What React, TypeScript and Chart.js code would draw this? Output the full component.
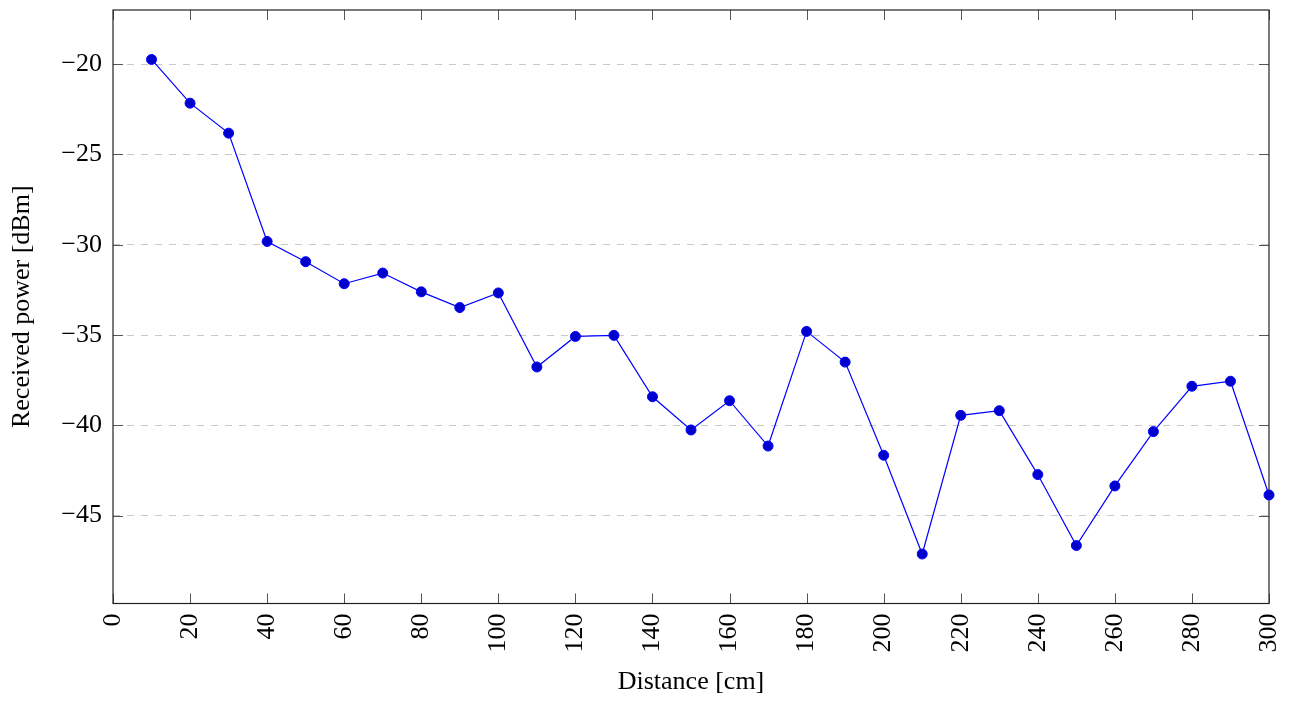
import React, { useEffect, useRef } from "react";
import { Chart, registerables } from "chart.js";

Chart.register(...registerables);

const distances = [10, 20, 30, 40, 50, 60, 70, 80, 90, 100, 110, 120, 130, 140, 150, 160, 170, 180, 190, 200, 210, 220, 230, 240, 250, 260, 270, 280, 290, 300];
const receivedPower = [-19.74, -22.16, -23.82, -29.82, -30.94, -32.16, -31.57, -32.61, -33.48, -32.67, -36.77, -35.08, -35.02, -38.42, -40.26, -38.64, -41.15, -34.8, -36.5, -41.66, -47.13, -39.45, -39.19, -42.73, -46.66, -43.36, -40.35, -37.84, -37.56, -43.86];
const xTicks = [0, 20, 40, 60, 80, 100, 120, 140, 160, 180, 200, 220, 240, 260, 280, 300];
const yTicks = [-45, -40, -35, -30, -25, -20];
const xMin = 0;
const xMax = 300;
const yMin = -49.87;
const yMax = -17.0;
const xTitle = "Distance [cm]";
const yTitle = "Received power [dBm]";

const FONT = "'Liberation Serif', 'Times New Roman', serif";

const framePlugin = {
  id: "frame",
  beforeDatasetsDraw(chart: any) {
    const { ctx, chartArea: a, scales } = chart;
    const x = scales.x;
    const y = scales.y;
    const tl = 10;
    ctx.save();
    ctx.strokeStyle = "#555";
    ctx.lineWidth = 1;
    ctx.beginPath();
    for (const t of xTicks) {
      const px = Math.round(x.getPixelForValue(t)) + 0.5;
      ctx.moveTo(px, a.bottom);
      ctx.lineTo(px, a.bottom - tl);
      ctx.moveTo(px, a.top);
      ctx.lineTo(px, a.top + tl);
    }
    for (const t of yTicks) {
      const py = Math.round(y.getPixelForValue(t)) + 0.5;
      ctx.moveTo(a.left, py);
      ctx.lineTo(a.left + tl, py);
      ctx.moveTo(a.right, py);
      ctx.lineTo(a.right - tl, py);
    }
    ctx.stroke();
    ctx.strokeStyle = "#222";
    ctx.lineWidth = 1.2;
    ctx.strokeRect(a.left, a.top, a.right - a.left, a.bottom - a.top);
    ctx.restore();
  },
};

export default function App() {
  const ref = useRef<HTMLCanvasElement | null>(null);
  useEffect(() => {
    if (!ref.current) return;
    const chart = new Chart(ref.current, {
      type: "line",
      data: {
        datasets: [
          {
            data: distances.map((d, i) => ({ x: d, y: receivedPower[i] })),
            borderColor: "#0000ff",
            borderWidth: 1.2,
            pointRadius: 5,
            pointBorderWidth: 1,
            pointBackgroundColor: "#0000cc",
            pointBorderColor: "#0000ff",
            tension: 0,
            clip: false as any,
          },
        ],
      },
      options: {
        animation: false,
        responsive: false,
        layout: { padding: { top: 10, right: 21, left: 0, bottom: 0 } },
        plugins: { legend: { display: false }, tooltip: { enabled: false } },
        scales: {
          x: {
            type: "linear",
            min: xMin,
            max: xMax,
            afterBuildTicks: (s: any) => {
              s.ticks = xTicks.map((v) => ({ value: v }));
            },
            afterFit: (s: any) => {
              s.height = 98.5;
              s.paddingLeft = 0;
              s.paddingRight = 0;
            },
            grid: { display: false, drawTicks: false },
            border: { display: false },
            ticks: {
              autoSkip: false,
              minRotation: 90,
              maxRotation: 90,
              padding: 10,
              color: "#000",
              font: { family: FONT, size: 26 },
              callback: (v: any) => String(v),
            },
            title: {
              display: true,
              text: xTitle,
              color: "#000",
              font: { family: FONT, size: 26 },
              padding: { top: 4, bottom: 4 },
            },
          },
          y: {
            type: "linear",
            min: yMin,
            max: yMax,
            afterBuildTicks: (s: any) => {
              s.ticks = yTicks.map((v) => ({ value: v }));
            },
            afterFit: (s: any) => {
              s.width = 113;
              s.paddingTop = 0;
              s.paddingBottom = 0;
            },
            grid: { color: "#c8c8c8", lineWidth: 1, drawTicks: false },
            border: { display: false, dash: [7, 7] },
            ticks: {
              padding: 11,
              color: "#000",
              font: { family: FONT, size: 26 },
              callback: (v: any) => (v < 0 ? "\u2212" + Math.abs(v) : String(v)),
            },
            title: {
              display: true,
              text: yTitle,
              color: "#000",
              font: { family: FONT, size: 26 },
              padding: { top: 7, bottom: 4 },
            },
          },
        },
      } as any,
      plugins: [framePlugin],
    });
    return () => chart.destroy();
  }, []);
  return (
    <div style={{ position: "fixed", left: 0, top: 0, width: 1290, height: 702, background: "#fff" }}>
      <canvas ref={ref} width={1290} height={702} style={{ display: "block" }} />
    </div>
  );
}
